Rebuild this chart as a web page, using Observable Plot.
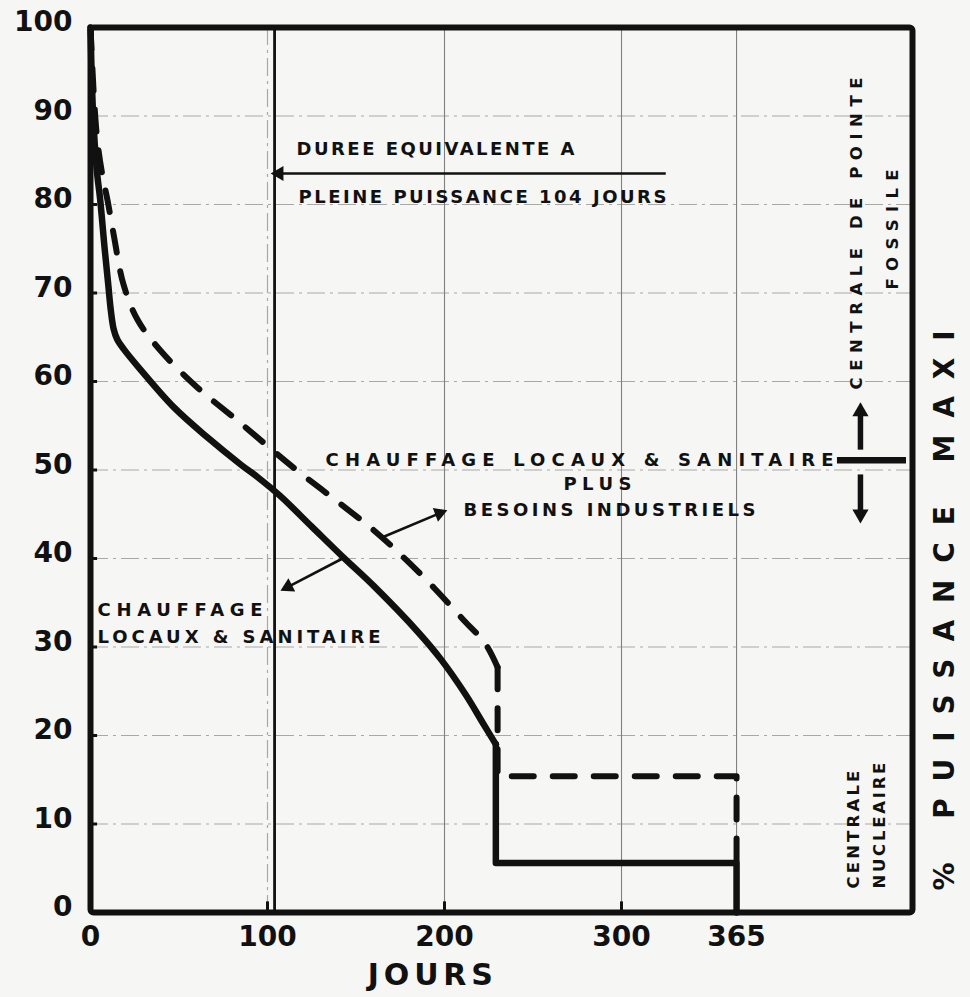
<!DOCTYPE html>
<html>
<head>
<meta charset="utf-8">
<script src="https://cdn.jsdelivr.net/npm/d3@7"></script>
<script src="https://cdn.jsdelivr.net/npm/@observablehq/plot@0.6"></script>
<style>
  html, body { margin: 0; padding: 0; background: #f6f6f4; }
  svg { display: block; }
</style>
</head>
<body>
<div id="chart"></div>
<script>
// ---- Data ----
// Load-duration curve: space heating & sanitary water (solid)
const heatingDays = [0, 1.5, 3.5, 5.5, 8, 10, 11.5, 13, 15, 19, 28, 47, 66, 85, 95, 107, 125, 143, 160, 185, 198, 212, 222, 229, 229, 365, 365];
const heatingPct  = [100, 90, 84, 80.5, 75, 71, 68, 66, 64.8, 63.6, 61.4, 57.1, 53.7, 50.6, 49.1, 47.1, 43.6, 40.1, 36.9, 31.7, 28.6, 24.6, 21.3, 19, 5.6, 5.6, 0];
// Space heating & sanitary plus industrial needs (dashed)
const totalDays = [0, 2, 4, 7, 9.6, 13, 18.6, 26.5, 39.5, 60.5, 83, 103, 117, 141, 160, 177, 194, 211, 223, 230, 230, 365, 365];
const totalPct  = [100, 92, 87, 83, 80.5, 76.7, 71, 67, 63.5, 59.3, 55.6, 52.2, 49.9, 46.2, 43.2, 40.1, 36.7, 33, 30.4, 27.7, 15.4, 15.4, 5.6];
const fullPowerDays = [104];
const xTicks = [0, 100, 200, 300, 365];
const yTicks = [0, 10, 20, 30, 40, 50, 60, 70, 80, 90, 100];
const gridY = [10, 20, 30, 40, 50, 60, 70, 80, 90];
const gridXDashed = [100];
const gridXSolid = [200, 300, 365];

// ---- Annotation texts ----
const textLabels = [
  "DUREE EQUIVALENTE A",
  "PLEINE PUISSANCE 104 JOURS",
  "CHAUFFAGE LOCAUX & SANITAIRE",
  "PLUS",
  "BESOINS INDUSTRIELS",
  "CHAUFFAGE",
  "LOCAUX & SANITAIRE"
];
const sideLabels = ["CENTRALE DE POINTE", "FOSSILE", "CENTRALE", "NUCLEAIRE"];
const yTitle = "% PUISSANCE MAXI";
const xTitle = "JOURS";

// ---- Layout (annotation placement, in data units) ----
const textPos = [
  {x: 116.4, y: 86.3}, {x: 117.5, y: 80.8}, {x: 132.8, y: 51.1}, {x: 267.2, y: 48.4},
  {x: 210.7, y: 45.5}, {x: 4, y: 34.2}, {x: 4, y: 31.1}
];
const sidePos = [{x: 432.8, y: 59.1}, {x: 453, y: 70.4}, {x: 431, y: 2.7}, {x: 446, y: 2.7}];
const textWidths = new Map([
  ["DUREE EQUIVALENTE A", 278], ["PLEINE PUISSANCE 104 JOURS", 368],
  ["CHAUFFAGE LOCAUX & SANITAIRE", 508], ["PLUS", 68], ["BESOINS INDUSTRIELS", 292],
  ["CHAUFFAGE", 165], ["LOCAUX & SANITAIRE", 283],
  ["CENTRALE DE POINTE", 312], ["FOSSILE", 120], ["CENTRALE", 118], ["NUCLEAIRE", 126],
  ["% PUISSANCE MAXI", 560], ["JOURS", 125]
]);
const thinArrows = [
  {x1: 325, y1: 83.5, x2: 106.6, y2: 83.5, hx: 106.6, hy: 83.5, rot: -90},
  {x1: 165, y1: 42.4, x2: 197.1, y2: 45.1, hx: 197.1, hy: 45.1, rot: 69.5},
  {x1: 142.4, y1: 40, x2: 111.6, y2: 36.8, hx: 111.6, hy: 36.8, rot: -117.3}
];
const thickArrows = [
  {x1: 435, y1: 52.3, x2: 435, y2: 56.6, hx: 435, hy: 56.6, rot: 0},
  {x1: 435, y1: 49.5, x2: 435, y2: 45.0, hx: 435, hy: 45.0, rot: 180}
];
const splitLine = [{x1: 422, x2: 461, y: 51.1}];

const ink = "#111";

// split each series into its smooth decline and its stepped tail (first vertical drop)
function parts(days) {
  const k = days.findIndex((d, i) => i > 0 && days[i + 1] === d);
  return [d3.range(0, k + 1), d3.range(k, days.length)];
}
const [heatSmooth, heatStep] = parts(heatingDays);
const [totSmooth, totStep] = parts(totalDays);
const dashed = {stroke: ink, strokeWidth: 6, strokeDasharray: "22,19", strokeLinecap: "round", strokeLinejoin: "round"};
const solid = {stroke: ink, strokeWidth: 6.5, strokeLinejoin: "round"};

const chart = Plot.plot({
  width: 970,
  height: 997,
  marginLeft: 90,
  marginRight: 58,
  marginTop: 27,
  marginBottom: 85,
  x: {domain: [0, 464.4]},
  y: {domain: [0, 100]},
  style: {background: "#f6f6f4", fontFamily: "'DejaVu Sans', sans-serif", color: ink},
  marks: [
    // grid
    Plot.ruleY(gridY, {stroke: "#a8a8a8", strokeWidth: 1.2, strokeDasharray: "18,5,3,5"}),
    Plot.ruleX(gridXDashed, {stroke: "#a8a8a8", strokeWidth: 1.2, strokeDasharray: "18,5,3,5"}),
    Plot.ruleX(gridXSolid, {stroke: "#808080", strokeWidth: 1.1}),
    // small tick stubs
    Plot.ruleY(gridY, {x1: 0, x2: 4, stroke: ink, strokeWidth: 3}),
    Plot.ruleX([100, 200, 300], {y1: 0, y2: 1.2, stroke: ink, strokeWidth: 3}),
    // full-power equivalent duration line
    Plot.ruleX(fullPowerDays, {stroke: ink, strokeWidth: 2.8}),
    // curves
    Plot.line(totSmooth, {x: i => totalDays[i], y: i => totalPct[i], curve: "catmull-rom", ...dashed}),
    Plot.line(totStep, {x: i => totalDays[i], y: i => totalPct[i], ...dashed}),
    Plot.line(heatSmooth, {x: i => heatingDays[i], y: i => heatingPct[i], curve: "catmull-rom", ...solid}),
    Plot.line(heatStep, {x: i => heatingDays[i], y: i => heatingPct[i], ...solid}),
    // arrows
    Plot.link(thinArrows, {x1: "x1", y1: "y1", x2: "x2", y2: "y2", stroke: ink, strokeWidth: 2.6}),
    Plot.dot(thinArrows, {x: "hx", y: "hy", rotate: "rot", symbol: "triangle", r: 5.5, fill: ink, stroke: "none"}),
    Plot.link(thickArrows, {x1: "x1", y1: "y1", x2: "x2", y2: "y2", stroke: ink, strokeWidth: 5.5}),
    Plot.dot(thickArrows, {x: "hx", y: "hy", rotate: "rot", symbol: "triangle", r: 6, fill: ink, stroke: "none"}),
    Plot.ruleY(splitLine, {y: "y", x1: "x1", x2: "x2", stroke: ink, strokeWidth: 6.5}),
    // annotation texts
    Plot.text(textLabels, {x: (d, i) => textPos[i].x, y: (d, i) => textPos[i].y, text: d => d,
      textAnchor: "start", lineAnchor: "middle", fontSize: 18, fontWeight: "bold", fill: ink}),
    Plot.text(sideLabels, {x: (d, i) => sidePos[i].x, y: (d, i) => sidePos[i].y, text: d => d,
      rotate: -90, textAnchor: "start", lineAnchor: "middle", fontSize: 16.5, fontWeight: "bold", fill: ink}),
    Plot.text([yTitle], {x: 483, y: 2.5, text: d => d, rotate: -90, textAnchor: "start",
      lineAnchor: "middle", fontSize: 28, fontWeight: "bold", fill: ink}),
    Plot.text([xTitle], {x: 192, y: -7.1, text: d => d, textAnchor: "middle",
      lineAnchor: "middle", fontSize: 30, fontWeight: "bold", fill: ink}),
    // frame
    Plot.frame({stroke: ink, strokeWidth: 6, rx: 3}),
    // axes
    Plot.axisY(yTicks, {tickSize: 0, tickPadding: 18, fontSize: 28, fontWeight: "bold", dy: -5, label: null, fill: ink}),
    Plot.axisX(xTicks, {tickSize: 0, tickPadding: 14, fontSize: 28, fontWeight: "bold", label: null, fill: ink})
  ]
});

const svgEl = chart.tagName.toLowerCase() === "svg" ? chart : chart.querySelector("svg");
d3.select(svgEl).selectAll("text").each(function () {
  const w = textWidths.get(this.textContent);
  if (w) {
    this.setAttribute("textLength", w);
    this.setAttribute("lengthAdjust", "spacing");
  }
});
document.getElementById("chart").appendChild(chart);
</script>
</body>
</html>
